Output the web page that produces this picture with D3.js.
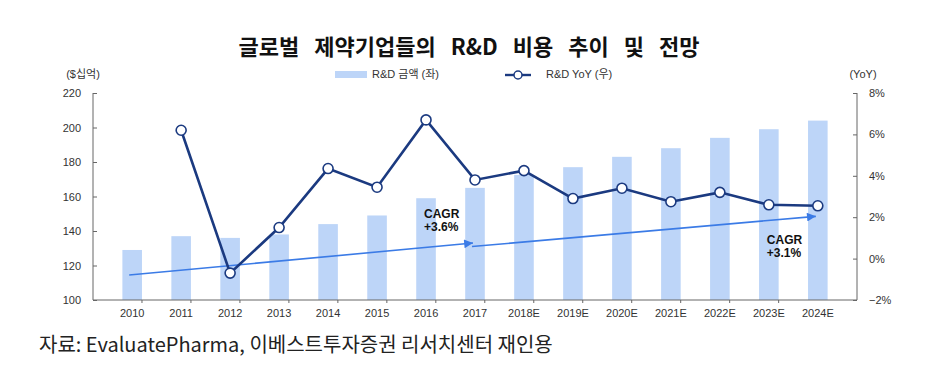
<!DOCTYPE html>
<html>
<head>
<meta charset="utf-8">
<script src="https://cdn.jsdelivr.net/npm/d3@7"></script>
<style>
  body { margin: 0; background: #fff; }
  svg { display: block; }
  .axis text { font-family: "Liberation Sans Narrow", "Liberation Sans", Arial, sans-serif; font-size: 11px; fill: #333; }
  .axis path, .axis line { stroke: #666; }
</style>
</head>
<body>
<div id="chart"></div>
<script>
// 연도
const years = ["2010", "2011", "2012", "2013", "2014", "2015", "2016", "2017",
  "2018E", "2019E", "2020E", "2021E", "2022E", "2023E", "2024E"];
// R&D 금액 ($십억)
const spend = [129, 137, 136, 138, 144, 149, 159, 165, 172.5, 177, 183, 188, 194, 199, 204];
// R&D YoY (%), 2010 없음
const yoy = [null, 6.2, -0.7, 1.5, 4.35, 3.45, 6.7, 3.8, 4.25, 2.9, 3.4, 2.75, 3.2, 2.6, 2.55];
const leftTicks = [100, 120, 140, 160, 180, 200, 220];
const rightTicks = [-2, 0, 2, 4, 6, 8];
// CAGR 화살표 (연도, 좌축 값)
const cagrArrows = [
  { from: ["2010", 114.5], to: ["2017", 133], label: ["CAGR", "+3.6%"], at: ["2016", 147.5] },
  { from: ["2017", 131], to: ["2024E", 148.5], label: ["CAGR", "+3.1%"], at: ["2023E", 132.5] }
];

const width = 940, height = 379;
const margin = { top: 93, right: 83, bottom: 79, left: 93 };

const svg = d3.select("#chart").append("svg")
  .attr("width", width)
  .attr("height", height);

const x = d3.scaleBand()
  .domain(years)
  .range([margin.left, width - margin.right])
  .padding(0.6);
const yL = d3.scaleLinear().domain([100, 220]).range([height - margin.bottom, margin.top]);
const yR = d3.scaleLinear().domain([-2, 8]).range([height - margin.bottom, margin.top]);
const cx = d => x(d) + x.bandwidth() / 2;

const defs = svg.append("defs");
defs.append("marker")
  .attr("id", "arrow")
  .attr("viewBox", "0 0 10 10")
  .attr("refX", 10).attr("refY", 5)
  .attr("markerWidth", 10).attr("markerHeight", 5.5)
  .attr("markerUnits", "strokeWidth")
  .attr("orient", "auto")
  .append("path")
  .attr("d", "M0,0L10,5L0,10Z")
  .attr("fill", "#3b7be6");

// 제목
svg.append("text")
  .attr("x", 469).attr("y", 55)
  .attr("text-anchor", "middle")
  .style("font-family", "'Noto Sans CJK KR', sans-serif")
  .style("font-weight", "bold")
  .style("font-size", "22px")
  .style("word-spacing", "10px")
  .attr("fill", "#111")
  .text("글로벌 제약기업들의 R&D 비용 추이 및 전망");

// 막대
svg.append("g").selectAll("rect")
  .data(spend)
  .join("rect")
  .attr("x", (d, i) => x(years[i]))
  .attr("y", d => yL(d))
  .attr("width", x.bandwidth())
  .attr("height", d => yL(100) - yL(d))
  .attr("fill", "#bdd5f8");

// 축
const axL = svg.append("g").attr("class", "axis")
  .attr("transform", `translate(${margin.left},0)`)
  .call(d3.axisLeft(yL).tickValues(leftTicks).tickSize(-4).tickPadding(12));
const axR = svg.append("g").attr("class", "axis")
  .attr("transform", `translate(${width - margin.right},0)`)
  .call(d3.axisRight(yR).tickValues(rightTicks).tickSize(-4).tickPadding(12)
    .tickFormat(d => (d < 0 ? "\u22122" : d) + "%"));
const axB = svg.append("g").attr("class", "axis")
  .attr("transform", `translate(0,${height - margin.bottom})`)
  .call(d3.axisBottom(x).tickSize(0).tickPadding(9));
axB.select(".domain").attr("d", `M${margin.left},0H${width - margin.right}`);
// 구간 경계 눈금
const step = x.step();
axB.append("g").selectAll("line")
  .data(d3.range(1, years.length))
  .join("line")
  .attr("x1", i => margin.left + i * step)
  .attr("x2", i => margin.left + i * step)
  .attr("y1", 0).attr("y2", 3)
  .attr("stroke", "#666");
axL.select(".domain").attr("d", `M0,${yL(220)}V${yL(100)}`);
axR.select(".domain").attr("d", `M0,${yR(8)}V${yR(-2)}`);

// CAGR 화살표
cagrArrows.forEach(a => {
  svg.append("line")
    .attr("x1", cx(a.from[0]) - 3).attr("y1", yL(a.from[1]))
    .attr("x2", cx(a.to[0]) - 2).attr("y2", yL(a.to[1]))
    .attr("stroke", "#3b7be6")
    .attr("stroke-width", 1.6)
    .attr("marker-end", "url(#arrow)");
  const t = svg.append("text")
    .attr("x", cx(a.at[0]) - 2).attr("y", yL(a.at[1]))
    .style("font-family", "'Liberation Sans Narrow', 'Liberation Sans', Arial, sans-serif")
    .style("font-weight", "bold")
    .style("font-size", "12px")
    .attr("fill", "#111");
  a.label.forEach((s, k) => t.append("tspan")
    .attr("x", cx(a.at[0]) - 2).attr("dy", k ? 13 : 0).text(s));
});

// YoY 선
const pts = yoy.map((v, i) => ({ year: years[i], v })).filter(d => d.v !== null);
svg.append("path")
  .datum(pts)
  .attr("fill", "none")
  .attr("stroke", "#1b3a80")
  .attr("stroke-width", 2.6)
  .attr("d", d3.line().x(d => cx(d.year)).y(d => yR(d.v)));
svg.append("g").selectAll("circle")
  .data(pts)
  .join("circle")
  .attr("cx", d => cx(d.year))
  .attr("cy", d => yR(d.v))
  .attr("r", 5)
  .attr("fill", "#fff")
  .attr("stroke", "#1b3a80")
  .attr("stroke-width", 1.6);

// 범례, 단위
function label(xp, yp, s, anchor) {
  return svg.append("text").attr("x", xp).attr("y", yp).attr("fill", "#333")
    .attr("text-anchor", anchor || "start")
    .style("font-family", "'Liberation Sans', 'Noto Sans CJK KR', sans-serif")
    .style("font-size", "11px")
    .text(s);
}
label(83, 78, "($십억)", "middle");
label(863, 78, "(YoY)", "middle");
svg.append("rect").attr("x", 335).attr("y", 71).attr("width", 32).attr("height", 7).attr("fill", "#bdd5f8");
label(372, 78, "R&D 금액 (좌)");
svg.append("line").attr("x1", 505).attr("x2", 531).attr("y1", 75).attr("y2", 75)
  .attr("stroke", "#1b3a80").attr("stroke-width", 2.4);
svg.append("circle").attr("cx", 518).attr("cy", 75).attr("r", 4)
  .attr("fill", "#fff").attr("stroke", "#1b3a80").attr("stroke-width", 1.5);
label(546, 78, "R&D YoY (우)");

// 출처
svg.append("text")
  .attr("x", 39).attr("y", 352)
  .style("font-family", "'Noto Sans CJK KR', sans-serif")
  .style("font-size", "20px")
  .attr("fill", "#222")
  .text("자료: EvaluatePharma, 이베스트투자증권 리서치센터 재인용");
</script>
</body>
</html>
